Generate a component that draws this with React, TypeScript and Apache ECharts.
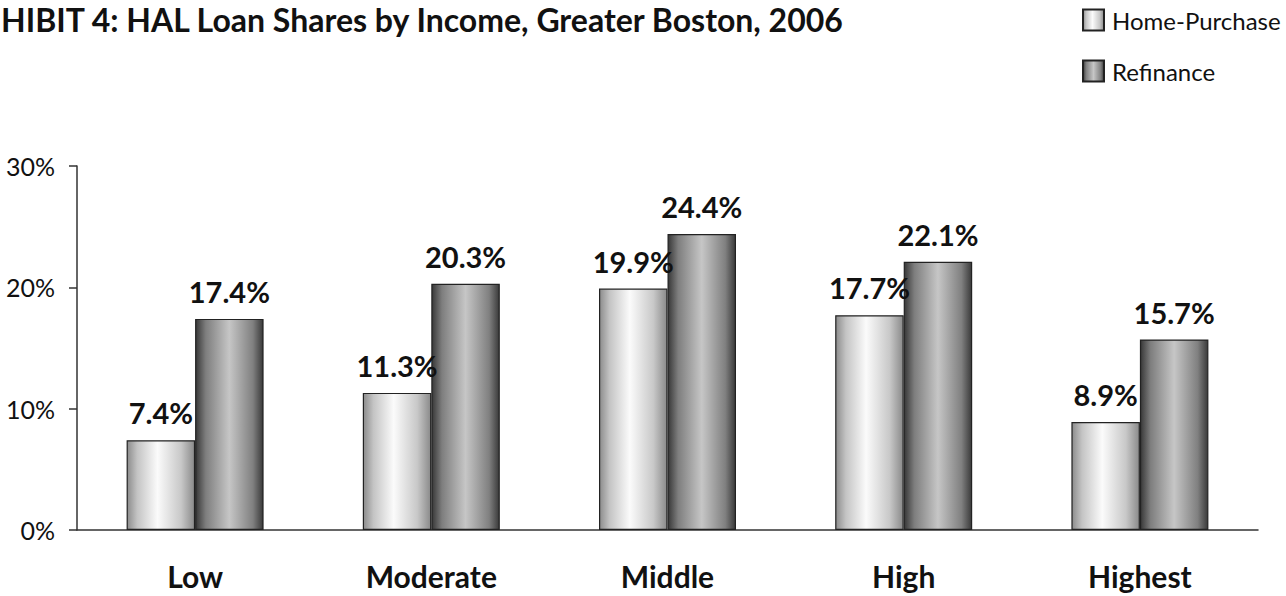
import React, { useEffect, useRef } from "react";
import * as echarts from "echarts";

const categories = ["Low", "Moderate", "Middle", "High", "Highest"];
const homePurchase = [7.4, 11.3, 19.9, 17.7, 8.9];
const refinance = [17.4, 20.3, 24.4, 22.1, 15.7];
const yTicks = [0, 10, 20, 30];
const titleText = "HIBIT 4: HAL Loan Shares by Income, Greater Boston, 2006";
const seriesNames = ["Home-Purchase", "Refinance"];

const FONT = "Lato, 'Open Sans', sans-serif";

export default function App() {
  const ref = useRef<HTMLDivElement>(null);
  useEffect(() => {
    if (!ref.current) return;
    const chart = echarts.init(ref.current, undefined, { renderer: "svg" });
    const lightGrad = new echarts.graphic.LinearGradient(0, 0, 1, 0, [
      { offset: 0, color: "#8c8c8c" },
      { offset: 0.15, color: "#c4c4c4" },
      { offset: 0.45, color: "#fbfbfb" },
      { offset: 0.8, color: "#c8c8c8" },
      { offset: 1, color: "#8a8a8a" },
    ]);
    const darkGrad = new echarts.graphic.LinearGradient(0, 0, 1, 0, [
      { offset: 0, color: "#383838" },
      { offset: 0.15, color: "#7e7e7e" },
      { offset: 0.5, color: "#c6c6c6" },
      { offset: 0.85, color: "#808080" },
      { offset: 1, color: "#3a3a3a" },
    ]);
    const labelStyle = {
      show: true,
      position: "top" as const,
      distance: 13,
      fontFamily: FONT,
      fontWeight: "bold" as const,
      fontSize: 29,
      color: "#111",
      formatter: (p: any) => p.value.toFixed(1) + "%",
    };
    chart.setOption({
      animation: false,
      backgroundColor: "#ffffff",
      title: {
        text: titleText,
        left: 1,
        top: 3,
        padding: 0,
        textStyle: { fontFamily: FONT, fontWeight: "bold", fontSize: 32, color: "#111" },
      },
      legend: {
        orient: "vertical",
        left: 1082,
        top: 8,
        padding: 0,
        itemWidth: 21,
        itemHeight: 21,
        itemGap: 27,
        icon: "rect",
        data: seriesNames,
        textStyle: { fontFamily: FONT, fontSize: 24, color: "#111", padding: [0, 0, 0, 3] },
      },
      grid: { left: 77, right: 28, top: 166, bottom: 66, containLabel: false },
      xAxis: {
        type: "category",
        data: categories,
        axisLine: { lineStyle: { color: "#333", width: 1.5 } },
        axisTick: { show: false },
        axisLabel: {
          margin: 31,
          fontFamily: FONT,
          fontWeight: "bold",
          fontSize: 30,
          color: "#111",
        },
      },
      yAxis: {
        type: "value",
        min: yTicks[0],
        max: yTicks[yTicks.length - 1],
        interval: 10,
        axisLine: { show: true, lineStyle: { color: "#333", width: 1.5 } },
        axisTick: { show: true, length: 8, lineStyle: { color: "#333", width: 1.5 } },
        splitLine: { show: false },
        axisLabel: {
          margin: 22,
          fontFamily: FONT,
          fontSize: 25,
          color: "#111",
          formatter: (v: number) => v + "%",
        },
      },
      series: [
        {
          name: seriesNames[0],
          type: "bar",
          data: homePurchase,
          barGap: "0%",
          barCategoryGap: "42%",
          itemStyle: { color: lightGrad, borderColor: "#222", borderWidth: 1.2 },
          label: labelStyle,
        },
        {
          name: seriesNames[1],
          type: "bar",
          data: refinance,
          itemStyle: { color: darkGrad, borderColor: "#222", borderWidth: 1.2 },
          label: labelStyle,
        },
      ],
    });
    return () => chart.dispose();
  }, []);
  return (
    <div
      ref={ref}
      style={{ position: "fixed", left: 0, top: 0, width: 1286, height: 596, background: "#fff" }}
    />
  );
}
